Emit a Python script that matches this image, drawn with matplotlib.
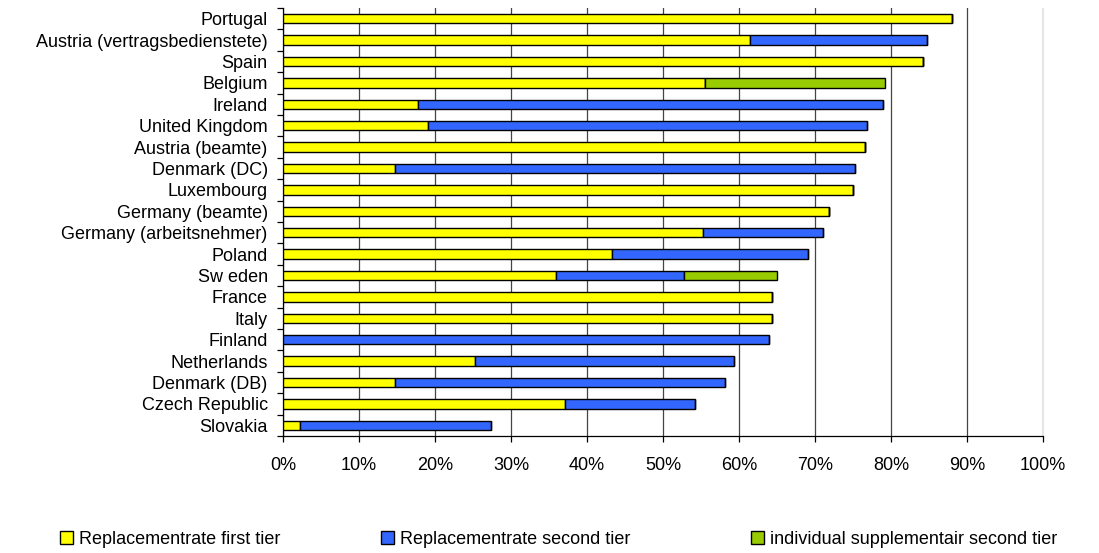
import matplotlib.pyplot as plt
import numpy as np
from matplotlib.patches import Patch
from matplotlib.ticker import FixedLocator, PercentFormatter

plt.rcParams["font.family"] = ["Liberation Sans", "DejaVu Sans"]

countries = [
    "Portugal", "Austria (vertragsbedienstete)", "Spain", "Belgium", "Ireland",
    "United Kingdom", "Austria (beamte)", "Denmark (DC)", "Luxembourg",
    "Germany (beamte)", "Germany (arbeitsnehmer)", "Poland", "Sw eden",
    "France", "Italy", "Finland", "Netherlands", "Denmark (DB)",
    "Czech Republic", "Slovakia",
]
first_tier = [88.0, 61.4, 84.2, 55.5, 17.7, 19.1, 76.6, 14.8, 75.0, 71.9,
              55.3, 43.3, 35.9, 64.3, 64.3, 0.0, 25.3, 14.8, 37.1, 2.3]
second_tier = [0.0, 23.3, 0.0, 0.0, 61.3, 57.8, 0.0, 60.4, 0.0, 0.0,
               15.7, 25.8, 16.8, 0.0, 0.0, 63.9, 34.1, 43.4, 17.1, 25.1]
supplementary = [0.0, 0.0, 0.0, 23.7, 0.0, 0.0, 0.0, 0.0, 0.0, 0.0,
                 0.0, 0.0, 12.3, 0.0, 0.0, 0.0, 0.0, 0.0, 0.0, 0.0]
series_names = ["Replacementrate first tier", "Replacementrate second tier",
                "individual supplementair second tier"]
colors = ["#FFFF00", "#3366FF", "#99CC00"]

FS = 13

fig = plt.figure(figsize=(10.99, 5.53), dpi=100)
ax = fig.add_axes([283 / 1099, 1 - 436 / 553, 760 / 1099, 428 / 553])

y = np.arange(len(countries))
left = np.zeros(len(countries))
for vals, col in zip([first_tier, second_tier, supplementary], colors):
    vals = np.array(vals)
    ax.barh(y, vals, left=left, height=0.43, color=col,
            edgecolor="black", linewidth=1.0, zorder=3)
    left += vals

ax.set_xlim(0, 100)
ax.set_ylim(len(countries) - 0.5, -0.5)
ax.xaxis.set_major_locator(FixedLocator(np.arange(0, 101, 10)))
ax.xaxis.set_major_formatter(PercentFormatter(decimals=0))
ax.grid(axis="x", color="#444444", linewidth=0.9, zorder=0)

ax.set_yticks(y)
ax.set_yticklabels(countries, fontsize=FS)
ax.yaxis.set_minor_locator(FixedLocator(np.arange(-0.5, len(countries), 1)))
ax.tick_params(axis="y", which="major", length=0, pad=11)
ax.tick_params(axis="y", which="minor", length=4, width=0.9)
ax.tick_params(axis="x", length=4, width=0.9, labelsize=FS, pad=11)

ax.spines["top"].set_visible(False)
ax.spines["right"].set_color("#e6e6e6")
ax.spines["left"].set_linewidth(0.9)
ax.spines["bottom"].set_linewidth(0.9)

for name, col, xpos in zip(series_names, colors, [60, 381, 751]):
    handle = Patch(facecolor=col, edgecolor="black", linewidth=1.0)
    fig.legend(handles=[handle], labels=[name], loc="center left",
               bbox_to_anchor=(xpos / 1099, 1 - 539 / 553), frameon=False,
               fontsize=FS, handlelength=0.7, handleheight=0.7,
               handletextpad=0.35, borderpad=0, borderaxespad=0)

fig.savefig("out.png", dpi=100)
